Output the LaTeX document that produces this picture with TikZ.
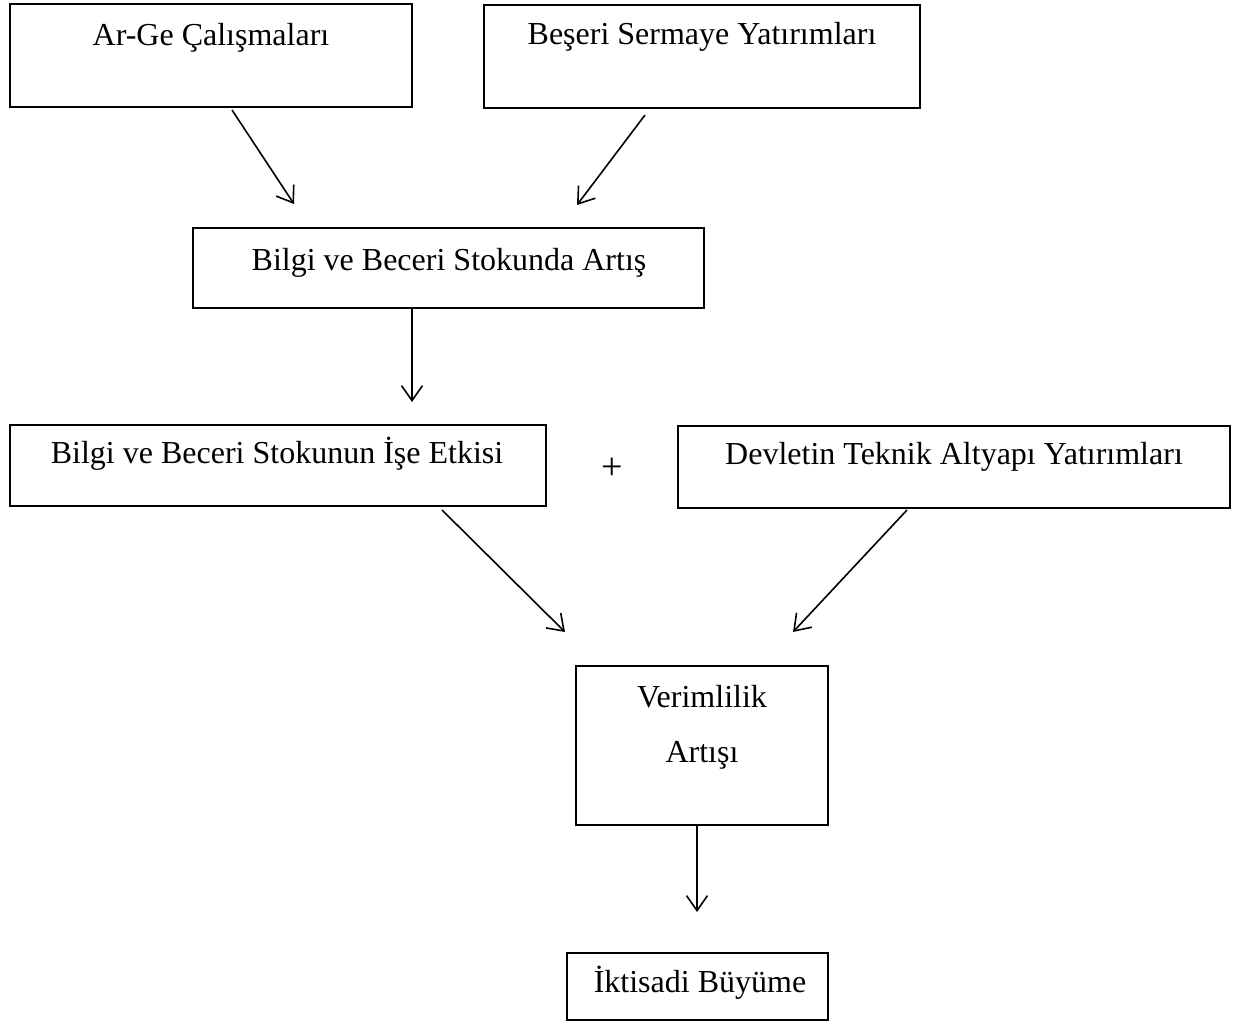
\documentclass[tikz,border=0pt]{standalone}
\usepackage{fontspec}
\setmainfont{Liberation Serif}
\usetikzlibrary{arrows.meta}
\begin{document}
\begin{tikzpicture}[x=1pt,y=-1pt,
  box/.style={draw=black,line width=2pt},
  txt/.style={anchor=base,inner sep=0pt,font=\fontsize{32}{38}\selectfont},
  conn/.style={line width=1.6pt,-{Straight Barb[length=15pt,width=21pt,line width=1.6pt]}}]
\useasboundingbox (0,0) rectangle (1238,1024);
% boxes
\draw[box,line width=2.6pt] (10,4) rectangle (412,107);
\draw[box] (484,5) rectangle (920,108);
\draw[box] (193,228) rectangle (704,308);
\draw[box] (10,425) rectangle (546,506);
\draw[box] (678,426) rectangle (1230,508);
\draw[box] (576,666) rectangle (828,825);
\draw[box] (567,953) rectangle (828,1020);
% texts
\node[txt] (t1) at (211,46) {Ar-Ge Çalışmaları};
\node[txt] (t2) at (702,45) {Beşeri Sermaye Yatırımları};
\node[txt] (t3) at (449,270) {Bilgi ve Beceri Stokunda Artış};
\node[txt] (t4) at (277,463) {Bilgi ve Beceri Stokunun İşe Etkisi};
\node[txt] (t5) at (954,464) {Devletin Teknik Altyapı Yatırımları};
\node[txt,font=\fontsize{38}{44}\selectfont] (plus) at (612,479) {+};
\node[txt] (t6a) at (702,707) {Verimlilik};
\node[txt] (t6b) at (702,762) {Artışı};
\node[txt] (t7) at (700,992) {İktisadi Büyüme};
% connector ends
\coordinate (a1s) at (232,110); \coordinate (a1e) at (294,204);
\coordinate (a2s) at (645,115); \coordinate (a2e) at (577,205);
\coordinate (a3s) at (412,308); \coordinate (a3e) at (412,402);
\coordinate (a4s) at (442,510); \coordinate (a4e) at (565,632);
\coordinate (a5s) at (907,510); \coordinate (a5e) at (793,632);
\coordinate (a6s) at (697,826); \coordinate (a6e) at (697,912);
\draw[conn] (a1s) -- (a1e);
\draw[conn] (a2s) -- (a2e);
\draw[conn] (a3s) -- (a3e);
\draw[conn] (a4s) -- (a4e);
\draw[conn] (a5s) -- (a5e);
\draw[conn] (a6s) -- (a6e);
\end{tikzpicture}
\end{document}
